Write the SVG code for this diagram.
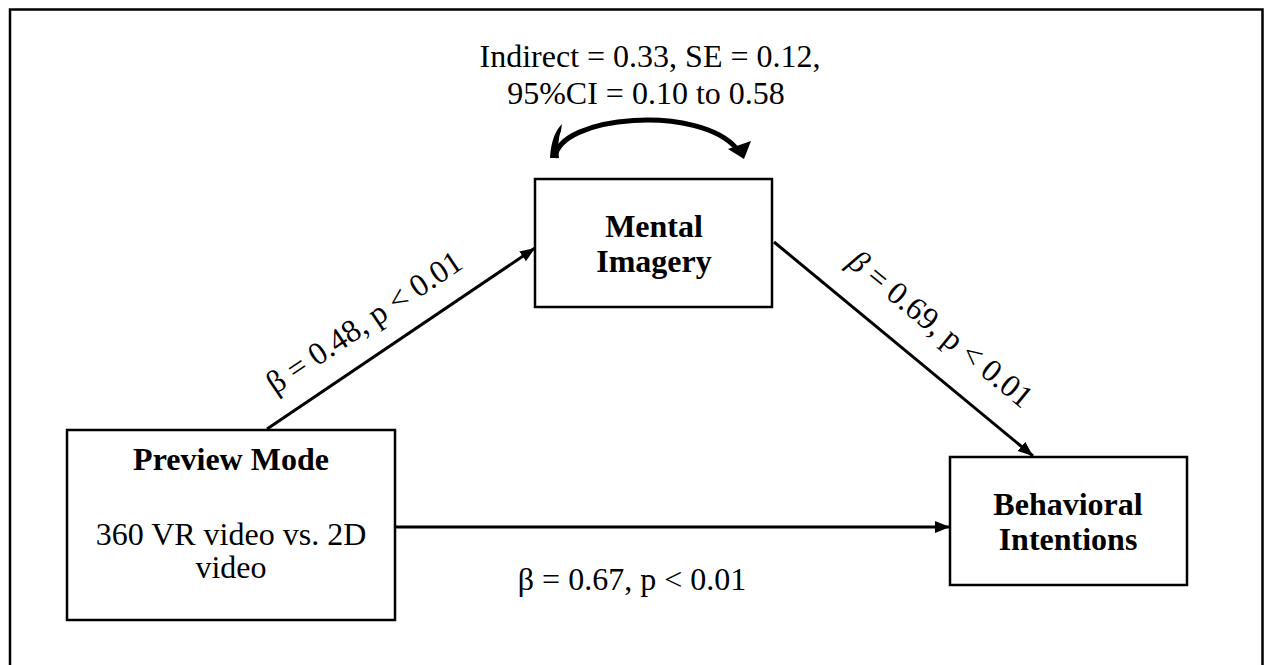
<svg xmlns="http://www.w3.org/2000/svg" width="1264" height="665" viewBox="0 0 1264 665">
<style>
  .box { fill: #fff; stroke: #000; stroke-width: 2.5; }
  .t { font-family: "Liberation Serif", "Times New Roman", serif; font-size: 32px; fill: #000; }
  .b { font-weight: bold; }
  .c { text-anchor: middle; }
  .conn { stroke: #000; stroke-width: 3; fill: none; marker-end: url(#arr); }
</style>
<defs>
  <marker id="arr" markerUnits="userSpaceOnUse" markerWidth="16" markerHeight="14" refX="15" refY="6" orient="auto">
    <path d="M0,0 L15,6 L0,12 Z" fill="#000"/>
  </marker>
</defs>
<rect x="0" y="0" width="1264" height="665" fill="#fff"/>
<path d="M10,670 V9.5 H1262.5 V670" fill="none" stroke="#000" stroke-width="2.5"/>

<g id="connectors">
  <line class="conn" x1="267" y1="429" x2="535" y2="248"/>
  <line class="conn" x1="774" y1="242" x2="1033" y2="456"/>
  <line class="conn" x1="396" y1="527" x2="950" y2="527"/>
  <path d="M555,158 C558,115 700,104 737,149" fill="none" stroke="#000" stroke-width="5"/>
  <path d="M550,158 C551,140 556,130 562,124 L561,131 C558,138 558,148 559,158 Z" fill="#000"/>
  <polygon points="728,149 751,141 744,159" fill="#000"/>
</g>

<g id="label-indirect">
  <text class="t c" x="650" y="67">Indirect = 0.33, SE = 0.12,</text>
  <text class="t c" x="646" y="104">95%CI = 0.10 to 0.58</text>
</g>

<g id="node-mental">
  <rect class="box" x="535" y="179" width="237" height="128"/>
  <text class="t b c" x="654" y="237">Mental</text>
  <text class="t b c" x="654" y="272">Imagery</text>
</g>

<g id="node-preview">
  <rect class="box" x="67" y="430" width="328" height="190"/>
  <text class="t b c" x="231" y="470">Preview Mode</text>
  <text class="t c" x="231" y="545">360 VR video vs. 2D</text>
  <text class="t c" x="231" y="578">video</text>
</g>

<g id="node-behavioral">
  <rect class="box" x="950" y="457" width="237" height="128"/>
  <text class="t b c" x="1068" y="515">Behavioral</text>
  <text class="t b c" x="1068" y="550">Intentions</text>
</g>

<g id="edge-labels">
  <text class="t c" transform="translate(370,331) rotate(-34)">β = 0.48, p &lt; 0.01</text>
  <text class="t c" transform="translate(934,337) rotate(39.4)"><tspan font-style="italic">β</tspan> = 0.69, p &lt; 0.01</text>
  <text class="t c" x="632" y="590">β = 0.67, p &lt; 0.01</text>
</g>
</svg>
